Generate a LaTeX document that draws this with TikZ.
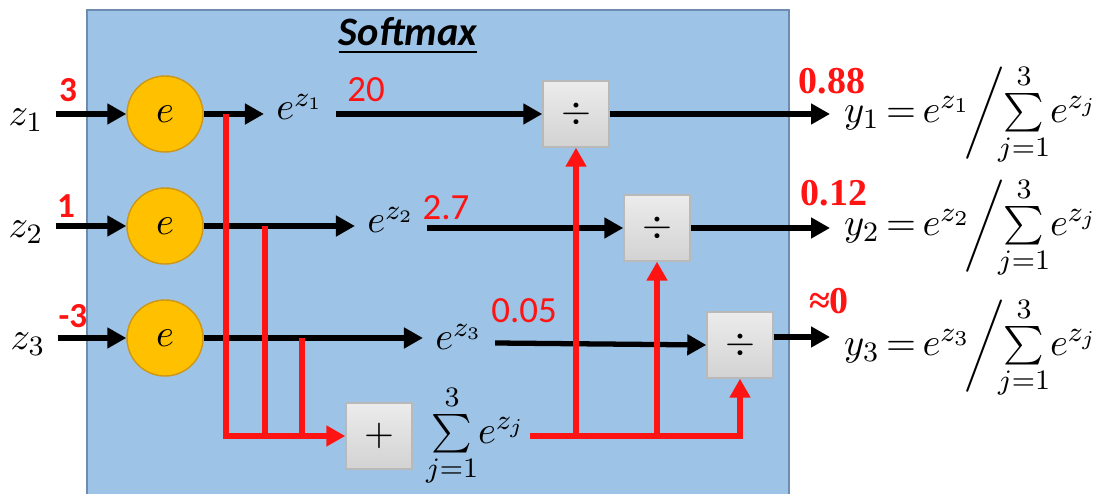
\documentclass[tikz,border=0pt]{standalone}
\usepackage{amsmath}
\usepackage{exscale}
\usepackage{fontspec}
\setsansfont{Carlito}
\newfontfamily\valfont{Liberation Serif}
\usetikzlibrary{arrows.meta, positioning, calc}
\definecolor{panelblue}{RGB}{157,195,230}
\definecolor{paneledge}{RGB}{110,140,175}
\definecolor{expfill}{RGB}{255,192,0}
\definecolor{expedge}{RGB}{205,150,20}
\definecolor{valred}{RGB}{255,20,20}
\newcommand\tightmath{\thickmuskip=3mu\relax}
\newcommand\sumexp{\sum\limits_{j=1}^{3}\! e^{z_j}}

\begin{document}
\begin{tikzpicture}[x=0.1mm, y=-0.1mm,
    expnode/.style={circle, draw=expedge, fill=expfill, minimum size=7.6mm, inner sep=0pt, font=\fontsize{11}{13}\selectfont},
    opbox/.style={rectangle, draw=gray!55, top color=gray!15, bottom color=gray!35, minimum width=6.6mm, minimum height=6.6mm, inner sep=0pt, font=\fontsize{11}{13}\selectfont},
    rowtxt/.style={font=\fontsize{11}{13}\selectfont},
    redval/.style={text=valred, font=\sffamily\fontsize{10.5}{12}\selectfont},
    inval/.style={text=valred, font=\sffamily\bfseries\fontsize{10}{12}\selectfont},
    outval/.style={text=valred, font=\valfont\bfseries\fontsize{10.8}{13}\selectfont},
    ymath/.style={anchor=west, inner sep=1pt, font=\fontsize{10.95}{13}\selectfont\tightmath},
    blk/.style={line width=1.5pt, -{Triangle[length=1.9mm, width=2mm]}},
    redln/.style={draw=valred, line width=1.5pt},
    redarr/.style={redln, -{Triangle[length=1.9mm, width=2mm]}}
  ]
  \useasboundingbox (0,0) rectangle (1093,494);
  \fill[panelblue] (87,10) rectangle (789,494);
  \draw[paneledge, thin] (87,494) -- (87,10) -- (789,10) -- (789,494);
  \node[font=\sffamily\bfseries\itshape\fontsize{11.5}{14}\selectfont] (title) at (408,36) {\underline{Softmax}};

  % inputs and exponentials
  \node[rowtxt] (z1) at (26,120) {$z_1$};
  \node[rowtxt] (z2) at (26,232) {$z_2$};
  \node[rowtxt] (z3) at (28,344) {$z_3$};
  \node[expnode] (c1) at (165,114) {$e$};
  \node[expnode] (c2) at (165,226) {$e$};
  \node[expnode] (c3) at (165,338) {$e$};
  \node[inval] (v1) at (68,90) {3};
  \node[inval] (v2) at (66,206) {1};
  \node[inval] (v3) at (73,316) {-3};
  \draw[blk] (z1.east |- c1) -- (c1.west);
  \draw[blk] (z2.east |- c2) -- (c2.west);
  \draw[blk] (z3.east |- c3) -- (c3.west);

  \node[rowtxt, anchor=base] (ez1) at (300,120) {$e^{z_1}$};
  \node[rowtxt, anchor=base] (ez2) at (391,233) {$e^{z_2}$};
  \node[rowtxt, anchor=base] (ez3) at (459,350) {$e^{z_3}$};
  \draw[blk] (c1.east) -- (c1.east -| ez1.west);
  \draw[blk] (c2.east) -- (c2.east -| ez2.west);
  \draw[blk] (c3.east) -- (c3.east -| ez3.west);

  % dividers
  \node[opbox] (d1) at (576,114) {$\div$};
  \node[opbox] (d2) at (657,228) {$\div$};
  \node[opbox] (d3) at (740,345) {$\div$};
  \node[redval] (n1) at (366,90) {20};
  \node[redval] (n2) at (446,208) {2.7};
  \node[redval] (n3) at (524,311) {0.05};
  \draw[blk] (ez1.east |- d1) -- (d1.west);
  \draw[blk] (ez2.east |- d2) -- (d2.west);
  \draw[blk] ($(ez3.base east)+(0,-7)$) -- (d3.west);

  % outputs
  \node[ymath] (y1) at (840,115) {$y_1 = e^{z_1}\!\bigg/\!\!\sumexp$};
  \node[ymath] (y2) at (840,228) {$y_2 = e^{z_2}\!\bigg/\!\!\sumexp$};
  \node[ymath] (y3) at (840,348) {$y_3 = e^{z_3}\!\bigg/\!\!\sumexp$};
  \node[outval] (p1) at (832,81) {0.88};
  \node[outval] (p2) at (834,193) {0.12};
  \node[outval] (p3) at (829,301) {≈0};
  \coordinate (o3) at (830,337);
  \draw[blk] (d1.east) -- (d1.east -| o3);
  \draw[blk] (d2.east) -- (d2.east -| o3);
  \draw[blk] (d3.east |- o3) -- (o3);

  % sum branch
  \node[opbox] (pl) at (379,436) {$+$};
  \node[ymath] (sm) at (422,436) {$\sumexp$};
  \coordinate (t1) at (226,114);
  \coordinate (t2) at (265,226);
  \coordinate (t3) at (302,338);
  \draw[redarr] (t1) |- (pl.west);
  \draw[redln] (t2) -- (t2 |- pl.west);
  \draw[redln] (t3) -- (t3 |- pl.west);
  \draw[redarr] (sm.east) -| (d3.south);
  \draw[redarr] (sm.east -| d1.south) -- (d1.south);
  \draw[redarr] (sm.east -| d2.south) -- (d2.south);
\end{tikzpicture}
\end{document}
